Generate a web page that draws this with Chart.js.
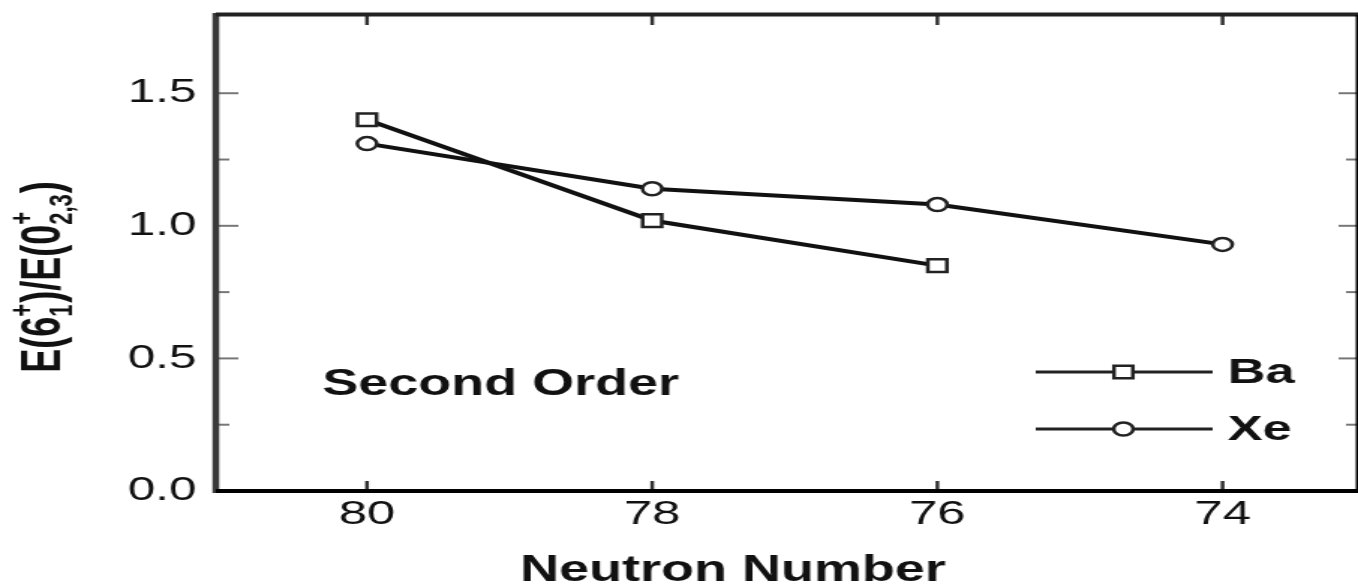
<!DOCTYPE html>
<html>
<head>
<meta charset="utf-8">
<script src="https://cdn.jsdelivr.net/npm/chart.js@4.4.1/dist/chart.umd.min.js"></script>
<style>
html, body { margin: 0; padding: 0; background: #fff; overflow: hidden; }
#wrap { position: absolute; left: 0; top: 0; width: 906px; height: 586px; transform: scaleX(1.4989); transform-origin: 0 0; }
</style>
</head>
<body>
<div id="wrap"><canvas id="chart" width="906" height="586"></canvas></div>
<script>
const neutronNumbers = [80, 78, 76, 74];
const baValues = [1.40, 1.02, 0.85];
const xeValues = [1.31, 1.14, 1.08, 0.93];
const seriesNames = ['Ba', 'Xe'];
const xTickValues = [80, 78, 76, 74];
const yTickValues = [0, 0.5, 1.0, 1.5];
const yMinorTicks = [0.25, 0.75, 1.25];
const xTitle = 'Neutron Number';
const noteText = 'Second Order';

const FONT = '"Liberation Sans", Arial, sans-serif';

function toPoints(values) {
    return values.map((v, i) => ({ x: neutronNumbers[i], y: v }));
}

function line(ctx, x1, y1, x2, y2) {
    ctx.beginPath();
    ctx.moveTo(x1, y1);
    ctx.lineTo(x2, y2);
    ctx.stroke();
}

function drawMarker(ctx, style, x, y) {
    ctx.fillStyle = '#fff';
    ctx.strokeStyle = '#222';
    ctx.lineWidth = 2.5;
    ctx.beginPath();
    if (style === 'rect') ctx.rect(x - 6.3, y - 6.3, 12.6, 12.6);
    else ctx.arc(x, y, 6.5, 0, Math.PI * 2);
    ctx.fill();
    ctx.stroke();
}

// y title with sub/superscripts: E(6_1^+)/E(0^+_{2,3})
function drawYTitle(ctx, cx, cy) {
    const main = 'bold 36px ' + FONT;
    const small = 'bold 22px ' + FONT;
    const parts = [
        { t: 'E(6' },
        { sup: '+', sub: '1' },
        { t: ')/E(0' },
        { sup: '+', sub: '2,3' },
        { t: ')' }
    ];
    const widths = parts.map(p => {
        if (p.t) { ctx.font = main; return ctx.measureText(p.t).width; }
        ctx.font = small;
        return Math.max(ctx.measureText(p.sup).width, ctx.measureText(p.sub).width) + 1;
    });
    const total = widths.reduce((a, b) => a + b, 0);
    ctx.save();
    ctx.translate(cx, cy);
    ctx.rotate(-Math.PI / 2);
    ctx.fillStyle = '#111';
    ctx.textBaseline = 'alphabetic';
    ctx.textAlign = 'left';
    let px = -total / 2;
    parts.forEach((p, i) => {
        if (p.t) {
            ctx.font = main;
            ctx.fillText(p.t, px, 0);
        } else {
            ctx.font = small;
            ctx.fillText(p.sup, px, -18);
            ctx.fillText(p.sub, px, 8);
        }
        px += widths[i];
    });
    ctx.restore();
}

const framePlugin = {
    id: 'frame',
    afterDraw(chart) {
        const { ctx, chartArea: a, scales: { x, y } } = chart;
        ctx.save();

        // inward y ticks, both sides
        ctx.strokeStyle = '#777';
        ctx.lineWidth = 2;
        yTickValues.forEach(v => {
            if (v === 0) return;
            const py = y.getPixelForValue(v);
            line(ctx, a.left, py, a.left + 15, py);
            line(ctx, a.right, py, a.right - 13, py);
        });
        yMinorTicks.forEach(v => {
            const py = y.getPixelForValue(v);
            line(ctx, a.left, py, a.left + 9, py);
            line(ctx, a.right, py, a.right - 8, py);
        });

        // inward x ticks, top and bottom
        ctx.strokeStyle = '#333';
        ctx.lineWidth = 2.5;
        xTickValues.forEach(v => {
            const px = x.getPixelForValue(v);
            line(ctx, px, a.bottom, px, a.bottom - 10);
            line(ctx, px, a.top, px, a.top + 10);
        });

        // frame
        ctx.strokeStyle = '#3a3a3a';
        ctx.lineWidth = 4.5;
        line(ctx, a.left, a.top - 2, a.left, a.bottom + 2);
        ctx.strokeStyle = '#222';
        ctx.lineWidth = 4;
        line(ctx, a.left, a.top - 0.5, a.right, a.top - 0.5);
        ctx.strokeStyle = '#000';
        line(ctx, a.left, a.bottom, a.right, a.bottom);
        ctx.lineWidth = 1.5;
        line(ctx, a.right - 0.75, a.top, a.right - 0.75, a.bottom);

        // legend
        const ds = chart.data.datasets;
        const rows = [372, 429];
        ds.forEach((d, i) => {
            ctx.strokeStyle = '#222';
            ctx.lineWidth = 3;
            line(ctx, 691, rows[i], 809, rows[i]);
            drawMarker(ctx, d.pointStyle, 749.5, rows[i]);
            ctx.fillStyle = '#111';
            ctx.font = 'bold 35px ' + FONT;
            ctx.textBaseline = 'middle';
            ctx.textAlign = 'left';
            ctx.fillText(d.label, 819, rows[i] + 1);
        });

        // note and titles
        ctx.fillStyle = '#111';
        ctx.textBaseline = 'alphabetic';
        ctx.font = 'bold 36px ' + FONT;
        ctx.fillText(noteText, 215, 395);
        ctx.fillText(xTitle, 347, 581);
        drawYTitle(ctx, 40, 277);

        ctx.restore();
    }
};

function noPad(s) {
    s.paddingTop = 0;
    s.paddingBottom = 0;
    s.paddingLeft = 0;
    s.paddingRight = 0;
}

new Chart(document.getElementById('chart'), {
    type: 'line',
    data: {
        datasets: [
            {
                label: seriesNames[0],
                data: toPoints(baValues),
                borderColor: '#111',
                borderWidth: 4,
                pointStyle: 'rect',
                pointRadius: 9,
                pointBorderWidth: 2.5,
                pointBackgroundColor: '#fff',
                pointBorderColor: '#222',
                tension: 0
            },
            {
                label: seriesNames[1],
                data: toPoints(xeValues),
                borderColor: '#111',
                borderWidth: 4,
                pointStyle: 'circle',
                pointRadius: 6.5,
                pointBorderWidth: 2.5,
                pointBackgroundColor: '#fff',
                pointBorderColor: '#222',
                tension: 0
            }
        ]
    },
    options: {
        responsive: false,
        animation: false,
        layout: { autoPadding: false, padding: { top: 15, right: 0, bottom: 0, left: 0 } },
        plugins: {
            legend: { display: false },
            tooltip: { enabled: false }
        },
        scales: {
            x: {
                type: 'linear',
                reverse: true,
                min: 73.05,
                max: 81.06,
                afterFit: s => { s.height = 95; noPad(s); },
                afterBuildTicks: s => { s.ticks = xTickValues.map(v => ({ value: v })); },
                grid: { display: false, drawTicks: false },
                border: { display: false },
                ticks: {
                    padding: 3,
                    autoSkip: false,
                    maxRotation: 0,
                    color: '#111',
                    font: { family: FONT, size: 34 },
                    callback: v => String(v)
                }
            },
            y: {
                min: 0,
                max: 1.795,
                afterFit: s => { s.width = 144; noPad(s); },
                afterBuildTicks: s => { s.ticks = yTickValues.map(v => ({ value: v })); },
                grid: { display: false, drawTicks: false },
                border: { display: false },
                ticks: {
                    padding: 13,
                    color: '#111',
                    font: { family: FONT, size: 33 },
                    callback: v => v.toFixed(1)
                }
            }
        }
    },
    plugins: [framePlugin]
});
</script>
</body>
</html>
